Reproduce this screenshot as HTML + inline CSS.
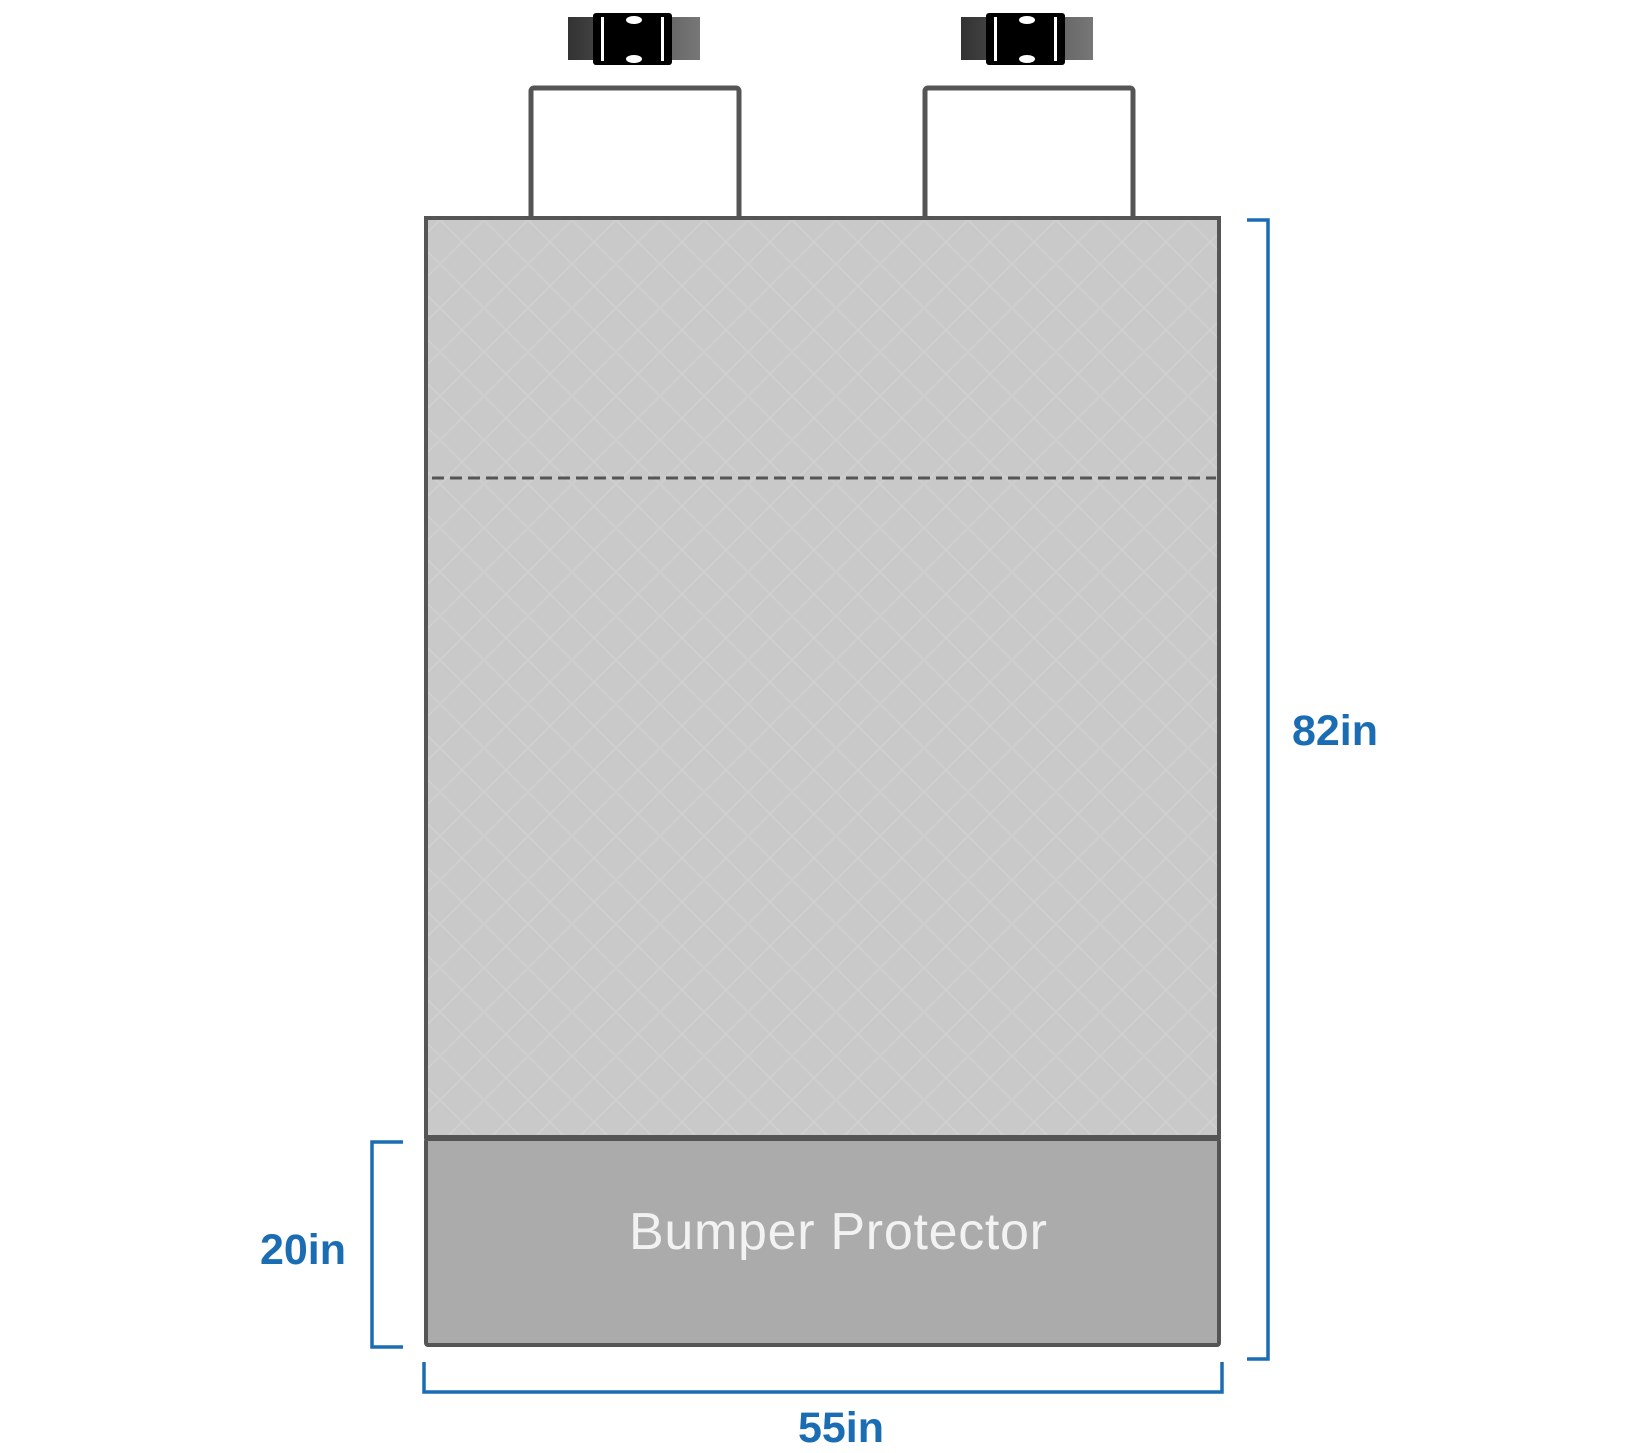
<!DOCTYPE html>
<html><head><style>html,body{margin:0;padding:0;background:#fff;width:1635px;height:1453px;overflow:hidden}</style></head>
<body>
<svg width="1635" height="1453" viewBox="0 0 1635 1453" xmlns="http://www.w3.org/2000/svg">
<defs>
<pattern id="q" width="44" height="44" patternUnits="userSpaceOnUse">
<rect width="44" height="44" fill="#c9c9c9"/>
<path d="M0 0 L44 44 M44 0 L0 44" stroke="#cfcfcf" stroke-width="2"/>
</pattern>
<linearGradient id="g" x1="0" x2="1"><stop offset="0" stop-color="#333"/><stop offset="1" stop-color="#777"/></linearGradient>
</defs>
<rect x="531" y="88" width="208" height="132" fill="#fff" stroke="#555" stroke-width="5" rx="3"/>
<rect x="925" y="88" width="208" height="132" fill="#fff" stroke="#555" stroke-width="5" rx="3"/>
<g>
<rect x="568" y="17" width="132" height="43" fill="url(#g)"/>
<rect x="593" y="13" width="79" height="52" fill="#000" rx="3"/>
<ellipse cx="634" cy="20" rx="8" ry="4" fill="#fff"/><ellipse cx="634" cy="59" rx="8" ry="4" fill="#fff"/>
<rect x="601" y="17" width="3" height="44" fill="#fff"/><rect x="661" y="17" width="3" height="44" fill="#fff"/>
</g>
<g transform="translate(393,0)">
<rect x="568" y="17" width="132" height="43" fill="url(#g)"/>
<rect x="593" y="13" width="79" height="52" fill="#000" rx="3"/>
<ellipse cx="634" cy="20" rx="8" ry="4" fill="#fff"/><ellipse cx="634" cy="59" rx="8" ry="4" fill="#fff"/>
<rect x="601" y="17" width="3" height="44" fill="#fff"/><rect x="661" y="17" width="3" height="44" fill="#fff"/>
</g>
<rect x="426" y="218" width="793" height="919" fill="url(#q)" stroke="#555" stroke-width="4"/>
<line x1="432" y1="478" x2="1216" y2="478" stroke="#555" stroke-width="3" stroke-dasharray="12,6"/>
<rect x="426" y="1139" width="793" height="206" fill="#ababab" stroke="#555" stroke-width="4" rx="2"/>
<text x="838" y="1249" font-family="Liberation Sans, sans-serif" font-size="52" fill="#f2f2f2" text-anchor="middle" textLength="418">Bumper Protector</text>
<g fill="none" stroke="#1a6db3" stroke-width="3.5">
<path d="M1247 220 H1268 V1359 H1247"/>
<path d="M403 1142 H372 V1347 H403"/>
<path d="M424 1362 V1392 H1222 V1362"/>
</g>
<g font-family="Liberation Sans, sans-serif" font-weight="bold" font-size="43" fill="#1a6db3" text-anchor="middle">
<text x="1335" y="745">82in</text>
<text x="303" y="1264">20in</text>
<text x="841" y="1442">55in</text>
</g>
</svg>
</body></html>
